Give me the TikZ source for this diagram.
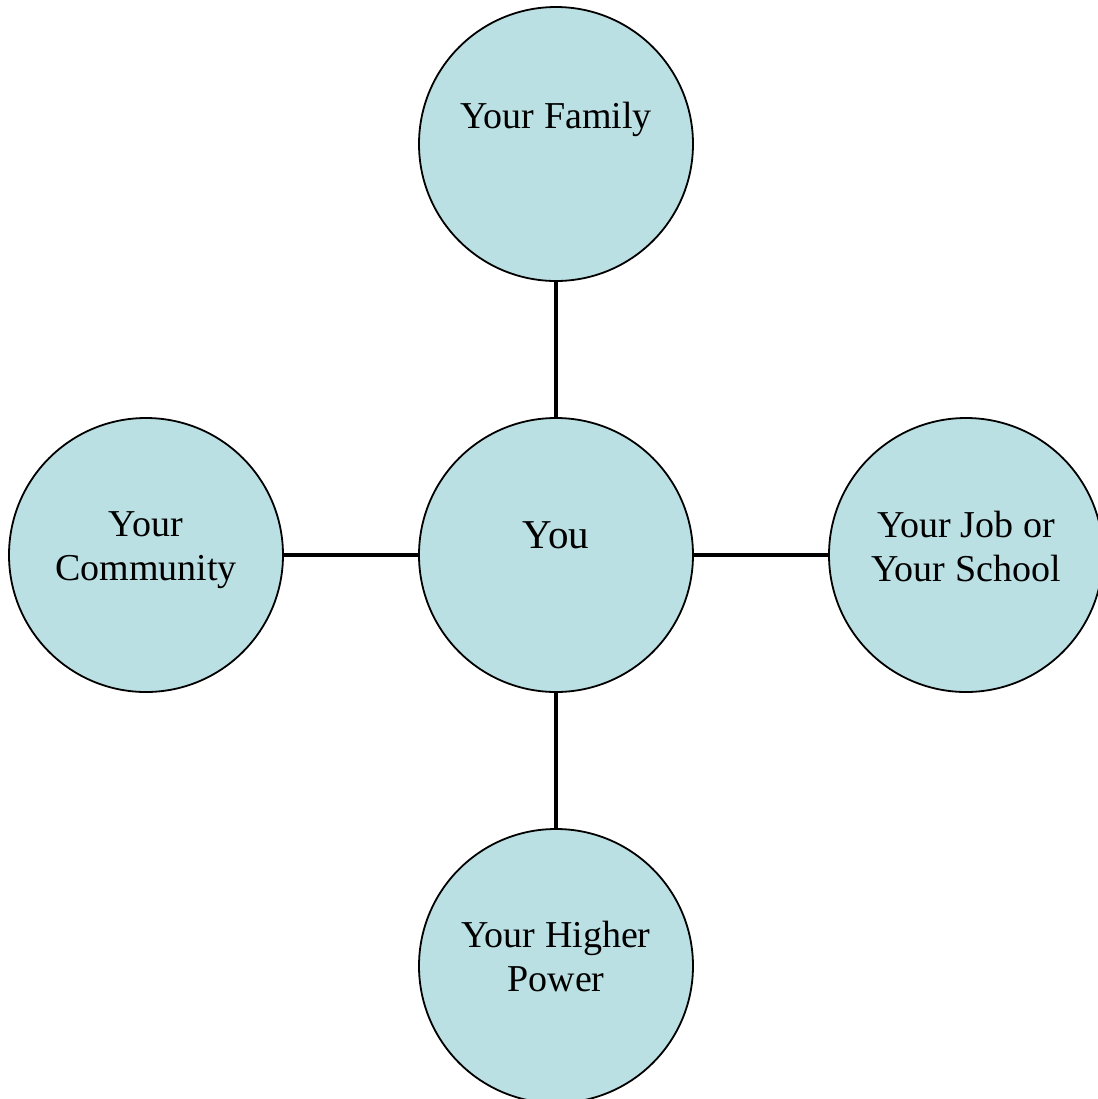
\documentclass[tikz,border=0pt]{standalone}
\usepackage{fontspec}
\setmainfont{Liberation Serif}
\usetikzlibrary{positioning}
\definecolor{circfill}{RGB}{187,224,227}
\tikzset{
    circ/.style={circle, draw=black, line width=0.9pt, fill=circfill, minimum size=137pt, inner sep=0pt},
    lbl/.style={align=center, font=\fontsize{19}{22}\selectfont},
    link/.style={line width=2.2pt}
}

\begin{document}
\begin{tikzpicture}[x=1pt, y=1pt]
  \useasboundingbox (0,0) rectangle (549,-549.5);
  \node[circ] (you) at (278,-277.5) {};
  \node[circ] (fam) at (278,-72) {};
  \node[circ] (hp) at (278,-483) {};
  \node[circ] (com) at (73,-277.5) {};
  \node[circ] (job) at (483,-277.5) {};
  \draw[link] (you) -- (fam);
  \draw[link] (you) -- (hp);
  \draw[link] (you) -- (com);
  \draw[link] (you) -- (job);
  \node[lbl, font=\fontsize{20.5}{24}\selectfont] (youtext) at ([yshift=10pt]you.center) {You};
  \node[lbl] (famtext) at ([yshift=12.5pt]fam.center) {Your Family};
  \node[lbl] (hptext) at ([yshift=4.75pt]hp.center) {Your Higher\\Power};
  \node[lbl] (comtext) at ([yshift=2.5pt]com.center) {Your\\Community};
  \node[lbl] (jobtext) at ([yshift=4.5pt]job.center) {Your Job or\\Your School};
\end{tikzpicture}
\end{document}
